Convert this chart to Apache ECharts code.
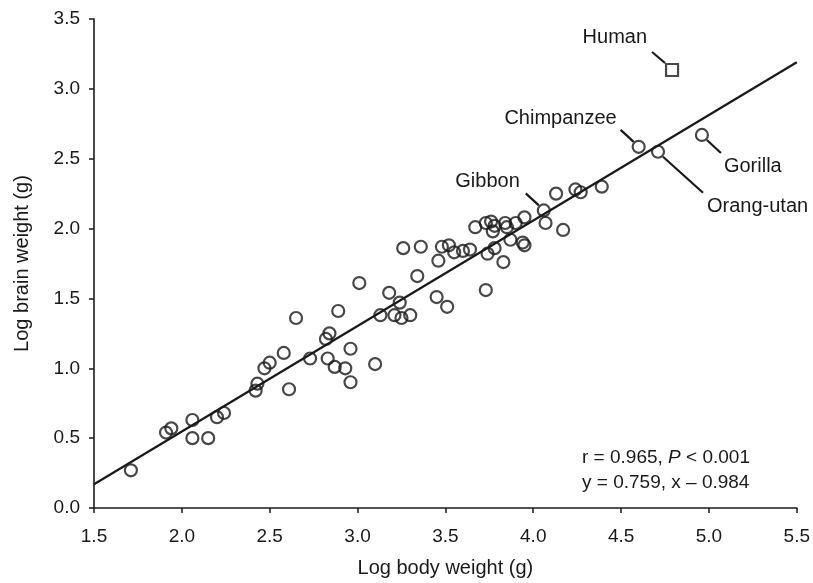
<!DOCTYPE html>
<html>
<head>
<meta charset="utf-8">
<script src="https://cdn.jsdelivr.net/npm/echarts@6/dist/echarts.min.js"></script>
<style>
html, body { margin: 0; padding: 0; background: #fff; }
#main { width: 813px; height: 583px; }
</style>
</head>
<body>
<div id="main"></div>
<script>
// primates: log body weight (x) / log brain weight (y)
var bodyWeight = [1.71, 1.91, 1.94, 2.06, 2.06, 2.15, 2.20, 2.24, 2.42, 2.43,
  2.47, 2.50, 2.58, 2.61, 2.65, 2.73, 2.82, 2.84, 2.83, 2.87,
  2.93, 2.96, 2.96, 2.89, 3.01, 3.10, 3.13, 3.18, 3.21, 3.24,
  3.25, 3.30, 3.34, 3.26, 3.36, 3.46, 3.45, 3.51, 3.48, 3.52,
  3.55, 3.60, 3.64, 3.73, 3.67, 3.73, 3.76, 3.77, 3.78, 3.84,
  3.85, 3.90, 3.95, 3.87, 3.78, 3.74, 3.83, 3.94, 3.95, 4.07,
  4.17, 4.13, 4.24, 4.27, 4.39];
var brainWeight = [0.27, 0.54, 0.57, 0.63, 0.50, 0.50, 0.65, 0.68, 0.84, 0.89,
  1.00, 1.04, 1.11, 0.85, 1.36, 1.07, 1.21, 1.25, 1.07, 1.01,
  1.00, 1.14, 0.90, 1.41, 1.61, 1.03, 1.38, 1.54, 1.38, 1.47,
  1.36, 1.38, 1.66, 1.86, 1.87, 1.77, 1.51, 1.44, 1.87, 1.88,
  1.83, 1.84, 1.85, 1.56, 2.01, 2.04, 2.05, 1.98, 2.02, 2.04,
  2.01, 2.04, 2.08, 1.92, 1.86, 1.82, 1.76, 1.90, 1.88, 2.04,
  1.99, 2.25, 2.28, 2.26, 2.30];

// labelled species
var apeNames = ['Gibbon', 'Chimpanzee', 'Orang-utan', 'Gorilla'];
var apeBody = [4.06, 4.60, 4.71, 4.96];
var apeBrain = [2.13, 2.585, 2.55, 2.67];
var humanBody = 4.79;
var humanBrain = 3.135;

// fitted line end points
var fitX = [1.5, 5.5];
var fitY = [0.17, 3.19];

var chart = echarts.init(document.getElementById('main'));
var font = '"Liberation Sans", Arial, Helvetica, sans-serif';
var ink = '#1a1a1a';

var points = bodyWeight.map(function (x, i) { return [x, brainWeight[i]]; });
var apes = apeNames.map(function (n, i) { return { name: n, value: [apeBody[i], apeBrain[i]] }; });
var fit = fitX.map(function (x, i) { return [x, fitY[i]]; });

var ring = { color: 'rgba(0,0,0,0)', borderColor: ink, borderWidth: 2.2 };

function axis(min, max, name, gap, margin) {
  return {
    type: 'value', min: min, max: max, interval: 0.5,
    name: name, nameLocation: 'middle', nameGap: gap,
    nameTextStyle: { fontSize: 20, color: ink, fontFamily: font },
    axisLine: { onZero: false, lineStyle: { color: ink, width: 1.6 } },
    axisTick: { length: 5, lineStyle: { color: ink, width: 1.5 } },
    axisLabel: {
      fontSize: 19, color: ink, fontFamily: font, margin: margin,
      formatter: function (v) { return v.toFixed(1); }
    },
    splitLine: { show: false }
  };
}

var option = {
  animation: false,
  backgroundColor: '#fff',
  grid: { left: 94, right: 16, top: 19, bottom: 71 },
  xAxis: axis(1.5, 5.5, 'Log body weight (g)', 50, 19),
  yAxis: axis(0, 3.5, 'Log brain weight (g)', 62, 14),
  series: [
    { type: 'line', data: fit, symbol: 'none', silent: true,
      lineStyle: { color: ink, width: 2.2 } },
    { type: 'scatter', data: points, symbol: 'circle', symbolSize: 12, itemStyle: ring },
    { type: 'scatter', data: apes, symbol: 'circle', symbolSize: 12, itemStyle: ring },
    { type: 'scatter', data: [[humanBody, humanBrain]], symbol: 'rect', symbolSize: 12, itemStyle: ring }
  ]
};
chart.setOption(option);

// leader lines and names, offsets in pixels from each marker
var callouts = [
  { text: 'Human', at: [humanBody, humanBrain], line: [-20, -18, -7, -7], tx: -25, ty: -33, align: 'right' },
  { text: 'Chimpanzee', at: [apeBody[1], apeBrain[1]], line: [-18, -17, -5, -5], tx: -22, ty: -28, align: 'right' },
  { text: 'Gibbon', at: [apeBody[0], apeBrain[0]], line: [-18, -17, -5, -5], tx: -24, ty: -29, align: 'right' },
  { text: 'Gorilla', at: [apeBody[3], apeBrain[3]], line: [5, 5, 19, 18], tx: 22, ty: 32, align: 'left' },
  { text: 'Orang-utan', at: [apeBody[2], apeBrain[2]], line: [5, 5, 45, 41], tx: 49, ty: 55, align: 'left' }
];

var graphics = [];
callouts.forEach(function (c) {
  var p = chart.convertToPixel({ gridIndex: 0 }, c.at);
  graphics.push({
    type: 'line', silent: true,
    shape: { x1: p[0] + c.line[0], y1: p[1] + c.line[1], x2: p[0] + c.line[2], y2: p[1] + c.line[3] },
    style: { stroke: ink, lineWidth: 2.2 }
  });
  graphics.push({
    type: 'text', silent: true, x: p[0] + c.tx, y: p[1] + c.ty,
    style: { text: c.text, fill: ink, fontSize: 20, fontFamily: font,
      textAlign: c.align, textVerticalAlign: 'middle', align: c.align, verticalAlign: 'middle' }
  });
});

graphics.push({
  type: 'text', silent: true, x: 582, y: 458,
  style: {
    text: '{a|r = 0.965, }{b|P}{a| < 0.001}',
    fill: ink, fontSize: 19, fontFamily: font, verticalAlign: 'middle', textVerticalAlign: 'middle',
    rich: {
      a: { fontSize: 19, fontFamily: font, fill: ink, color: ink },
      b: { fontSize: 19, fontFamily: font, fill: ink, color: ink, fontStyle: 'italic' }
    }
  }
});
graphics.push({
  type: 'text', silent: true, x: 582, y: 483,
  style: { text: 'y = 0.759, x \u2013 0.984', fill: ink, fontSize: 19, fontFamily: font,
    verticalAlign: 'middle', textVerticalAlign: 'middle' }
});

chart.setOption({ graphic: graphics });
</script>
</body>
</html>
